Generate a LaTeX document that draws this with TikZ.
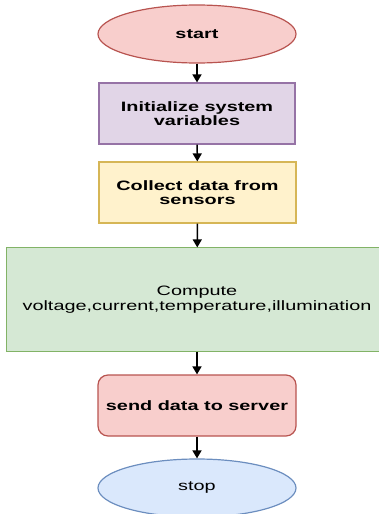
\documentclass[tikz,border=0pt]{standalone}
\usepackage{fontspec}
\usetikzlibrary{shapes.geometric,arrows.meta}
\newfontfamily\flowfont[FakeStretch=1.46]{Liberation Sans}
\definecolor{redfill}{HTML}{F8CECC}
\definecolor{redline}{HTML}{B85450}
\definecolor{purplefill}{HTML}{E1D5E7}
\definecolor{purpleline}{HTML}{9673A6}
\definecolor{yellowfill}{HTML}{FFF2CC}
\definecolor{yellowline}{HTML}{D6B656}
\definecolor{greenfill}{HTML}{D5E8D4}
\definecolor{greenline}{HTML}{82B366}
\definecolor{bluefill}{HTML}{DAE8FC}
\definecolor{blueline}{HTML}{6C8EBF}
\begin{document}
\begin{tikzpicture}[x=1pt,y=-1pt,
  box/.style={draw,line width=1.2pt,align=center,inner sep=0pt,
    font=\flowfont\fontsize{13.6}{14.6}\selectfont},
  boldbox/.style={box,font=\flowfont\bfseries\fontsize{13.6}{14.6}\selectfont},
  oval/.style={ellipse,minimum width=198pt,minimum height=58pt},
  flow/.style={-{Triangle[length=8pt,width=9pt]},line width=1.5pt}]
  \useasboundingbox (0,0) rectangle (378,514);
  \node[boldbox,oval,fill=redfill,draw=redline] (start) at (197,34) {start};
  \node[boldbox,fill=purplefill,draw=purpleline,minimum width=196pt,minimum height=61pt] (init) at (197,113.5) {Initialize system\\variables};
  \node[boldbox,fill=yellowfill,draw=yellowline,minimum width=197pt,minimum height=61pt] (collect) at (197.5,192.5) {Collect data from\\sensors};
  % box runs off the right edge of the picture
  \node[box,draw=none,fill=greenfill,minimum width=380pt,minimum height=103pt] (compute) at (197,299.5) {Compute\\voltage,current,temperature,illumination};
  \draw[greenline,line width=1.2pt] ([xshift=20pt]compute.north east) -- (compute.north west)
    -- (compute.south west) -- ([xshift=20pt]compute.south east);
  \node[boldbox,rounded corners=10pt,fill=redfill,draw=redline,minimum width=198pt,minimum height=61pt] (send) at (197,405.5) {send data to server};
  \node[box,oval,fill=bluefill,draw=blueline] (stop) at (197,488) {stop};

  \draw[flow] (start) -- (init);
  \draw[flow] (init) -- (collect);
  \draw[flow] (collect) -- (compute);
  \draw[flow] (compute) -- (send);
  \draw[flow] (send) -- (stop);
\end{tikzpicture}
\end{document}
